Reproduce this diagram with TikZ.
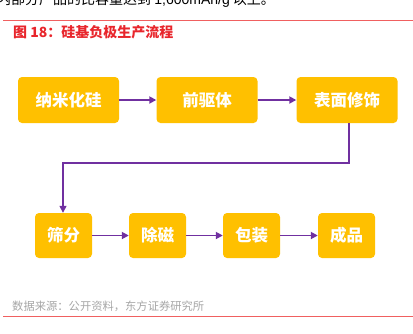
\documentclass[tikz,border=0pt]{standalone}
\usepackage{fontspec}
\newfontfamily\cjk{Noto Sans CJK SC}
\newfontfamily\latin{Liberation Sans}
\usetikzlibrary{arrows.meta}
\definecolor{boxfill}{HTML}{FFC000}
\definecolor{flow}{HTML}{7030A0}
\definecolor{titlered}{HTML}{E8262C}
\definecolor{rulered}{HTML}{F06060}
\definecolor{srcgray}{HTML}{A6A6A6}
\tikzset{
  stepbox/.style={fill=boxfill, draw=none, rounded corners=4pt, inner sep=0pt,
    text=white, font=\cjk\bfseries\fontsize{16.5}{16.5}\selectfont},
  bigbox/.style={stepbox, minimum width=101pt, minimum height=46pt},
  smallbox/.style={stepbox, minimum width=57pt, minimum height=45pt},
  flowarrow/.style={draw=flow, line width=1.8pt, -{Triangle[length=7pt,width=7pt]}},
  linkline/.style={draw=flow, line width=1.3pt, -{Triangle[length=7pt,width=7pt]}},
}
\begin{document}
\begin{tikzpicture}[x=1pt,y=-1pt]
\useasboundingbox (0,0) rectangle (413,333);
\begin{scope}
\clip (0,0) rectangle (413,333);
\node[anchor=base west, inner sep=0pt, font=\cjk\fontsize{14}{14}\selectfont] (toptext) at (-3,4.5) {内部分产品的比容量达到 {\latin 1,600mAh/g} 以上。};
\end{scope}
\draw[rulered, line width=0.9pt] (3,20) coordinate (r1a) -- (413,20) coordinate (r1b);
\node[anchor=west, inner sep=0pt, text=titlered, font=\cjk\bfseries\fontsize{14}{14}\selectfont] (title) at (13,32) {图 18：硅基负极生产流程};

\node[bigbox] (b1) at (68.5,100) {纳米化硅};
\node[bigbox] (b2) at (207,100) {前驱体};
\node[bigbox] (b3) at (347,100) {表面修饰};

\node[smallbox] (c1) at (63.5,235.5) {筛分};
\node[smallbox] (c2) at (157.5,235.5) {除磁};
\node[smallbox] (c3) at (251.5,235.5) {包装};
\node[smallbox] (c4) at (346.5,235.5) {成品};

\draw[flowarrow] (b1) -- (b2);
\draw[flowarrow] (b2) -- (b3);
\draw[linkline] (b3.south -| 349,0) |- (63,163) -- (c1.north -| 63,0);
\draw[flowarrow] (c1) -- (c2);
\draw[flowarrow] (c2) -- (c3);
\draw[flowarrow] (c3) -- (c4);

\node[anchor=west, inner sep=0pt, text=srcgray, font=\cjk\fontsize{11.3}{11.3}\selectfont] (source) at (12,306) {数据来源：公开资料，东方证券研究所};
\draw[rulered, line width=0.9pt] (3,316) coordinate (r2a) -- (413,316) coordinate (r2b);
\end{tikzpicture}
\end{document}
